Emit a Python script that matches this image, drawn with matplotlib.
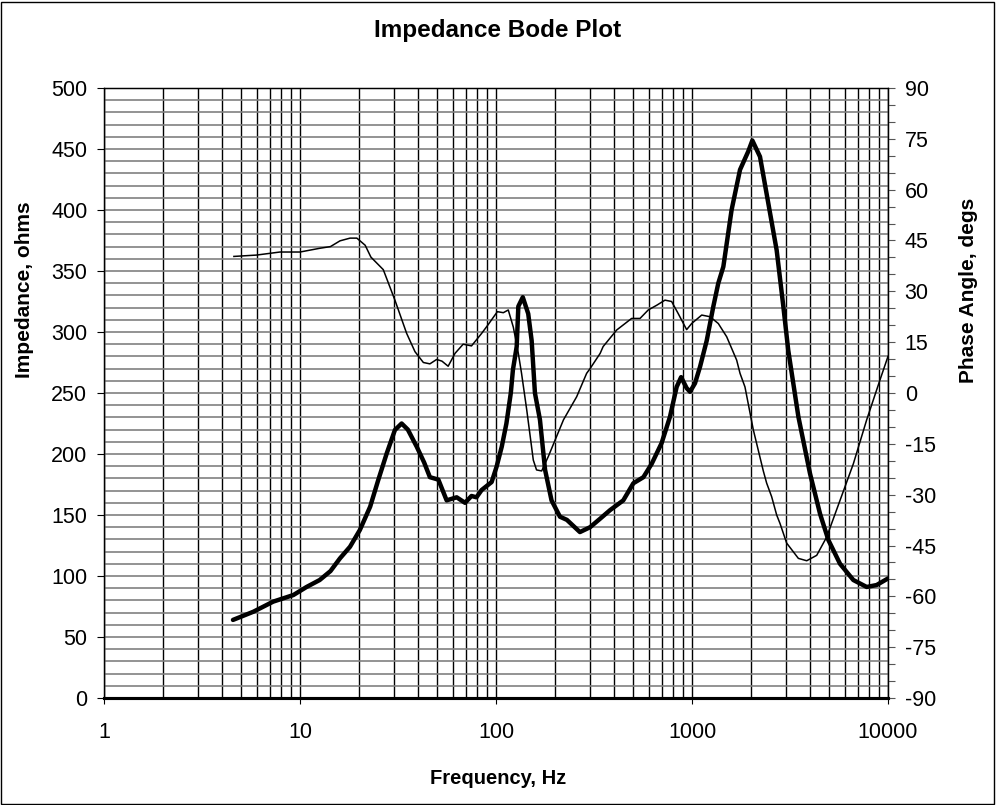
#Impedance Bode Plot - impedancia y fase de un altavoz
import matplotlib
matplotlib.use('Agg')
from matplotlib import pyplot as plt
from matplotlib.ticker import MultipleLocator, LogLocator, FixedLocator, NullFormatter
from matplotlib.patches import Rectangle

plt.rcParams['font.family'] = ['Liberation Sans', 'DejaVu Sans']
plt.rcParams['axes.unicode_minus'] = False

# Impedancia (ohms) - curva gruesa
freq_z = [4.55, 5.78, 7.3, 9.25, 10.8, 12.6, 14.3, 16, 18, 20.2, 22.8, 25, 27.7, 30.5, 33,
          35.5, 39.4, 43, 46, 50.8, 56, 63, 69.5, 75, 79.5, 84.5, 95, 100.7, 107, 113, 119,
          122, 127.5, 130, 137, 146, 152, 158, 167.6, 178, 192, 212, 230, 268, 302, 340,
          382, 446, 502, 565, 623, 700, 772, 835, 880, 939, 977, 1036, 1099, 1189, 1285,
          1362, 1445, 1592, 1758, 1936, 2032, 2223, 2451, 2704, 2924, 3098, 3490, 4000,
          4500, 4963, 5690, 6655, 7786, 8750, 10000]
impedance = [64, 70.7, 79, 84.4, 91, 96.7, 104, 114.5, 124, 137.7, 156.8, 178, 200.5, 219.7,
             225, 220, 206, 193, 181, 179, 162, 164.5, 160, 165.6, 164.5, 170.5, 177, 189.6,
             206, 225, 250, 269, 288, 321, 328.5, 315, 293, 250, 228, 187, 162, 148.6, 146,
             136, 140, 147, 154, 162, 176, 181, 192, 209, 230.5, 255, 263, 254, 251, 258,
             271.5, 293, 321, 340, 353.5, 400, 433, 448, 457, 443.7, 405.5, 367, 321, 285,
             230.5, 184, 151, 129.5, 110, 96.7, 91, 92.6, 98]

# Angulo de fase (grados) - curva delgada
freq_p = [4.6, 6.0, 7.9, 10, 12.6, 14.3, 16, 18, 19.5, 21.5, 23, 26.6, 30.5, 35, 38.6, 42.6,
          46, 49.8, 53, 57, 61.8, 68, 75, 84.5, 91, 101.6, 109, 115.5, 122.6, 130, 135,
          143.5, 155, 161, 171, 185, 221, 258, 290, 302, 340, 352, 413, 492, 543, 598, 661,
          728, 787, 851, 939, 996, 1121, 1237, 1362, 1503, 1690, 1758, 1863, 2054, 2311,
          2404, 2549, 2704, 2812, 3041, 3489, 3848, 4328, 4866, 5690, 6655, 7786, 9106, 10000]
phase = [40.3, 40.7, 41.6, 41.6, 42.7, 43.2, 44.9, 45.7, 45.7, 43.6, 40.1, 36.4, 27.4, 17.6,
         12.2, 9.0, 8.6, 9.9, 9.4, 7.9, 11.7, 14.4, 13.9, 17.6, 20.1, 24.0, 23.7, 24.5, 19.4,
         11.7, 5.8, -5.0, -19.8, -22.7, -23.0, -18.7, -7.9, -1.1, 5.8, 7.2, 11.7, 13.7, 18.6,
         22.0, 22.0, 24.5, 25.9, 27.4, 27.0, 23.4, 18.7, 20.5, 23.0, 22.5, 20.5, 16.6, 9.7,
         5.8, 1.8, -10.8, -23.0, -26.6, -30.6, -36.0, -38.5, -44.3, -48.8, -49.5, -47.9,
         -42.5, -31.7, -20.9, -7.9, 3.9, 10.8]

x_ticks = [1, 10, 100, 1000, 10000]
x_labels = ['1', '10', '100', '1000', '10000']

fig = plt.figure(figsize=(9.96, 8.05), dpi=100)
ax = fig.add_axes([104/996, 107/805, 784/996, 610/805])
ax2 = ax.twinx()

# Graficar data
ax.plot(freq_z, impedance, color='black', lw=3.2, solid_capstyle='round', zorder=3)
ax2.plot(freq_p, phase, color='black', lw=1.1, zorder=3)

# formato eje x
ax.set_xscale('log')
ax.set_xlim(1, 10000)
ax.xaxis.set_major_locator(FixedLocator(x_ticks))
ax.set_xticklabels(x_labels)
ax.xaxis.set_minor_locator(LogLocator(base=10, subs=range(2, 10), numticks=20))
ax.xaxis.set_minor_formatter(NullFormatter())

# formato eje y izquierdo
ax.set_ylim(0, 500)
ax.yaxis.set_major_locator(MultipleLocator(50))
ax.yaxis.set_minor_locator(MultipleLocator(10))

# formato eje y derecho
ax2.set_ylim(-90, 90)
ax2.yaxis.set_major_locator(MultipleLocator(15))
ax2.yaxis.set_minor_locator(MultipleLocator(5))

ax.set_axisbelow(True)
ax.grid(which='both', axis='y', color='#808080', lw=1.2)
ax.grid(which='both', axis='x', color='black', lw=1.0)

ax.tick_params(axis='x', which='major', direction='out', length=4, width=0.8,
               labelsize=15.5, pad=13)
ax.tick_params(axis='x', which='minor', length=0)
ax.tick_params(axis='y', which='major', direction='out', length=5, width=0.8,
               labelsize=15.5, pad=7)
ax.tick_params(axis='y', which='minor', length=0)
ax2.tick_params(axis='y', which='both', direction='out', length=5, width=0.8,
                labelsize=15.5, pad=7, color='#555555')

for a in (ax, ax2):
    for s in a.spines.values():
        s.set_color('black')
        s.set_linewidth(0.9)
    a.spines['bottom'].set_linewidth(2.2)

# textos
fig.text(0.5, 1 - 30/805, 'Impedance Bode Plot', ha='center', va='center',
         fontsize=17.5, fontweight='bold')
fig.text(0.5, 1 - 778/805, 'Frequency, Hz', ha='center', va='center',
         fontsize=14.5, fontweight='bold')
fig.text(25/996, 1 - 290/805, 'Impedance, ohms', ha='center', va='center',
         rotation=90, fontsize=15, fontweight='bold')
fig.text(968/996, 1 - 290/805, 'Phase Angle, degs', ha='center', va='center',
         rotation=90, fontsize=15, fontweight='bold')

# borde exterior
fig.patches.append(Rectangle((0.001, 0.001), 0.997, 0.997, transform=fig.transFigure,
                             fill=False, edgecolor='black', lw=1.0))

fig.savefig('out.png', dpi=100)
